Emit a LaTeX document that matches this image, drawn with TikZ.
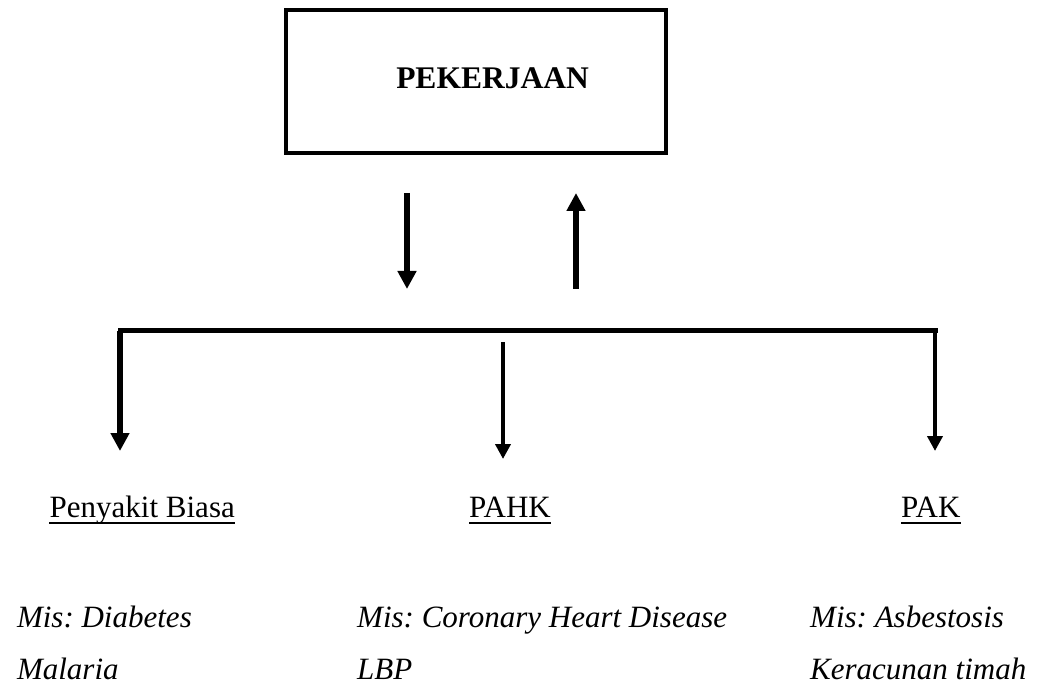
\documentclass[tikz,border=0pt]{standalone}
\usepackage{fontspec}
\setmainfont{Liberation Serif}
\usetikzlibrary{arrows.meta,calc}
\frenchspacing
\begin{document}
\begin{tikzpicture}[x=1pt,y=-1pt,
  body/.style={inner sep=0pt,font=\fontsize{31}{36}\selectfont},
  ital/.style={body,font=\fontsize{31}{36}\selectfont\itshape},
  uline/.style={line width=2.5pt},
  bigtip/.style={-{Triangle[length=18pt,width=18pt]}},
  smalltip/.style={-{Triangle[length=15pt,width=15pt]}}]
\useasboundingbox (0,0) rectangle (1050,687);
% box and title
\node[draw,line width=4pt,minimum width=380pt,minimum height=143pt,anchor=north west,inner sep=0pt] (box) at (284,8) {};
\node[inner sep=0pt,font=\fontsize{31.5}{36}\selectfont\bfseries,anchor=base] (title) at (492.5,89) {PEKERJAAN};
% two arrows between box and bar
\coordinate (d1) at (407,193);
\coordinate (d2) at (407,289);
\coordinate (u1) at (576,289);
\coordinate (u2) at (576,193);
\draw[line width=6pt,bigtip] (d1) -- (d2);
\draw[line width=6pt,bigtip] (u1) -- (u2);
% bar
\coordinate (bl) at (120,330.5);
\coordinate (br) at (935,330.5);
\draw[line width=5pt,line cap=rect] (bl) -- (br);
\coordinate (lt) at (120,451);
\coordinate (rt) at (935,451);
\coordinate (m1) at (503,342);
\coordinate (m2) at (503,459);
\draw[line width=5.5pt,bigtip] (bl) -- (lt);
\draw[line width=4.5pt,smalltip] (br) -- (rt);
\draw[line width=4pt,smalltip] (m1) -- (m2);
% categories
\node[body,anchor=base east] (pb) at (235,517) {Penyakit Biasa};
\node[body,anchor=base west] (pahk) at (469,517) {PAHK};
\node[body,anchor=base west] (pak) at (901,517) {PAK};
\draw[uline] ($(pb.base west)+(0,6)$) -- ($(pb.base east)+(0,6)$);
\draw[uline] ($(pahk.base west)+(0,6)$) -- ($(pahk.base east)+(0,6)$);
\draw[uline] ($(pak.base west)+(0,6)$) -- ($(pak.base east)+(0,6)$);
% examples
\node[ital,anchor=base east] (m1t) at (192,627) {Mis: Diabetes};
\node[ital,anchor=base west] (m2t) at ($(m1t.base west)+(0,52)$) {Malaria};
\node[ital,anchor=base west] (c1t) at (357,627) {Mis: Coronary Heart Disease};
\node[ital,anchor=base west] (c2t) at (357,679) {LBP};
\node[ital,anchor=base west] (a1t) at (810,627) {Mis: Asbestosis};
\node[ital,anchor=base west] (a2t) at (810,679) {Keracunan timah};
\end{tikzpicture}
\end{document}
